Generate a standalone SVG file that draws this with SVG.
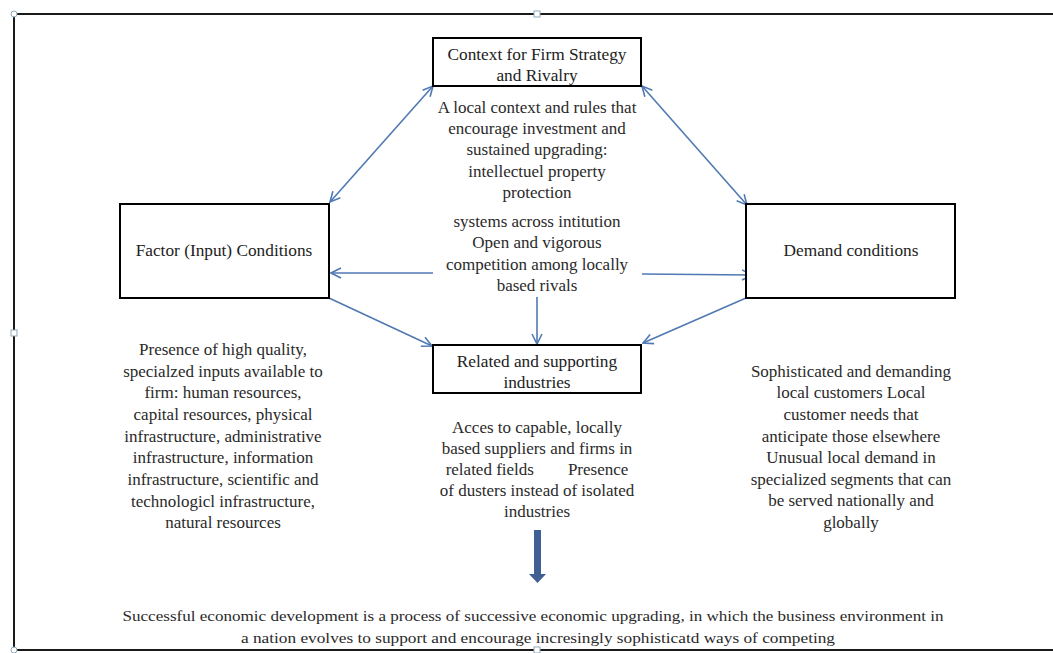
<svg xmlns="http://www.w3.org/2000/svg" width="1053" height="653" viewBox="0 0 1053 653">
<style>
.box{fill:#fff;stroke:#000;stroke-width:2}
.t{font-family:"Liberation Serif","DejaVu Serif",serif;font-size:17.3px;fill:#222;text-anchor:middle}
.d{font-family:"Liberation Serif","DejaVu Serif",serif;font-size:17px;fill:#2a2a2a;text-anchor:middle}
.b{font-family:"Liberation Serif","DejaVu Serif",serif;font-size:15px;fill:#2a2a2a;text-anchor:middle}
.c{stroke:#5079b3;stroke-width:1.6;fill:none}
.frame{stroke:#1a1a1a;stroke-width:2;fill:none}
.handle{fill:#fff;stroke:#8fa9b8;stroke-width:1}
</style>
<defs>
<marker id="ah" viewBox="0 0 12 12" refX="11" refY="6" markerWidth="12" markerHeight="12" markerUnits="userSpaceOnUse" orient="auto-start-reverse">
<path d="M1,1 L11,6 L1,11" fill="none" stroke="#5079b3" stroke-width="1.6"/>
</marker>
</defs>
<rect width="1053" height="653" fill="#fff"/>
<g id="frame">
<path class="frame" d="M14,14 H1053 M14,14 V650 H1053"/>
<circle class="handle" cx="14" cy="14" r="3"/>
<rect class="handle" x="534" y="11" width="6" height="6"/>
<rect class="handle" x="11" y="330" width="6" height="6"/>
<circle class="handle" cx="14" cy="650" r="3"/>
<rect class="handle" x="534" y="647" width="6" height="6"/>
</g>
<g id="connectors">
<line class="c" x1="330" y1="202" x2="433" y2="86" marker-start="url(#ah)" marker-end="url(#ah)"/>
<line class="c" x1="642" y1="86" x2="747" y2="205" marker-start="url(#ah)" marker-end="url(#ah)"/>
<line class="c" x1="433" y1="273" x2="331" y2="273" marker-end="url(#ah)"/>
<line class="c" x1="642" y1="274" x2="752" y2="275" marker-end="url(#ah)"/>
<line class="c" x1="329" y1="298" x2="432" y2="346" marker-end="url(#ah)"/>
<line class="c" x1="537" y1="297" x2="537" y2="344" marker-end="url(#ah)"/>
<line class="c" x1="746" y1="298" x2="643" y2="343" marker-end="url(#ah)"/>
<g id="big-arrow">
<rect x="534" y="530" width="7" height="45" fill="#3f5f95"/>
<path d="M529,574 L546,574 L537.5,583 Z" fill="#3f5f95"/>
</g>
</g>
<g id="context">
<rect class="box" x="433" y="38" width="208" height="48"/>
<text class="t" x="537" y="60">Context for Firm Strategy</text>
<text class="t" x="537" y="81">and Rivalry</text>
</g>
<g id="context-desc">
<text class="d" x="537" y="113">A local context and rules that</text>
<text class="d" x="537" y="134">encourage investment and</text>
<text class="d" x="537" y="155">sustained upgrading:</text>
<text class="d" x="537" y="177">intellectuel property</text>
<text class="d" x="537" y="198">protection</text>
<text class="d" x="537" y="227">systems across intitution</text>
<text class="d" x="537" y="248">Open and vigorous</text>
<text class="d" x="537" y="270">competition among locally</text>
<text class="d" x="537" y="291">based rivals</text>
</g>
<g id="factor">
<rect class="box" x="120" y="204" width="209" height="94"/>
<text class="t" x="224" y="256">Factor (Input) Conditions</text>
</g>
<g id="demand">
<rect class="box" x="746" y="204" width="209" height="94"/>
<text class="t" x="851" y="256">Demand conditions</text>
</g>
<g id="related">
<rect class="box" x="433" y="345" width="208" height="48"/>
<text class="t" x="537" y="367">Related and supporting</text>
<text class="t" x="537" y="388">industries</text>
</g>
<g id="factor-desc">
<text class="d" x="223" y="355">Presence of high quality,</text>
<text class="d" x="223" y="377">specialzed inputs available to</text>
<text class="d" x="223" y="398">firm: human resources,</text>
<text class="d" x="223" y="420">capital resources, physical</text>
<text class="d" x="223" y="442">infrastructure, administrative</text>
<text class="d" x="223" y="463">infrastructure, information</text>
<text class="d" x="223" y="485">infrastructure, scientific and</text>
<text class="d" x="223" y="507">technologicl infrastructure,</text>
<text class="d" x="223" y="528">natural resources</text>
</g>
<g id="related-desc">
<text class="d" x="537" y="433">Acces to capable, locally</text>
<text class="d" x="537" y="454">based suppliers and firms in</text>
<text class="d" x="537" y="475" xml:space="preserve">related fields        Presence</text>
<text class="d" x="537" y="496">of dusters instead of isolated</text>
<text class="d" x="537" y="517">industries</text>
</g>
<g id="demand-desc">
<text class="d" x="851" y="377">Sophisticated and demanding</text>
<text class="d" x="851" y="398">local customers Local</text>
<text class="d" x="851" y="420">customer needs that</text>
<text class="d" x="851" y="442">anticipate those elsewhere</text>
<text class="d" x="851" y="463">Unusual local demand in</text>
<text class="d" x="851" y="485">specialized segments that can</text>
<text class="d" x="851" y="506">be served nationally and</text>
<text class="d" x="851" y="528">globally</text>
</g>
<g id="conclusion">
<text class="b" x="533" y="621" textLength="821" lengthAdjust="spacingAndGlyphs">Successful economic development is a process of successive economic upgrading, in which the business environment in</text>
<text class="b" x="538" y="643" textLength="594" lengthAdjust="spacingAndGlyphs">a nation evolves to support and encourage incresingly sophisticatd ways of competing</text>
</g>
</svg>
